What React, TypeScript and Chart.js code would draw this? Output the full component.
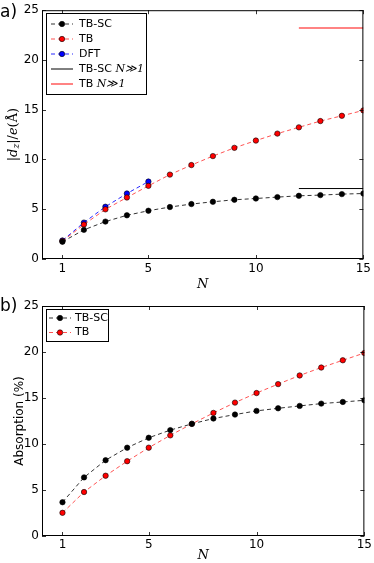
import React, { useEffect, useRef } from "react";
import { Chart, registerables } from "chart.js";
Chart.register(...registerables);

// ---------- data ----------
const layersN = [1, 2, 3, 4, 5, 6, 7, 8, 9, 10, 11, 12, 13, 14, 15];
const dipoleTBSC = [1.73, 2.93, 3.76, 4.39, 4.85, 5.22, 5.52, 5.75, 5.95, 6.08, 6.22, 6.35, 6.42, 6.52, 6.58];
const dipoleTB = [1.8, 3.46, 4.99, 6.18, 7.35, 8.48, 9.44, 10.34, 11.17, 11.9, 12.6, 13.23, 13.86, 14.39, 14.93];
const dftN = [1, 2, 3, 4, 5];
const dipoleDFT = [1.86, 3.66, 5.25, 6.58, 7.78];
const limitN = [12, 15];
const dipoleTBSCLimit = 7.08;
const dipoleTBLimit = 23.2;
const absTBSC = [3.67, 6.37, 8.24, 9.6, 10.68, 11.51, 12.19, 12.77, 13.2, 13.6, 13.88, 14.14, 14.39, 14.57, 14.75];
const absTB = [2.52, 4.78, 6.55, 8.13, 9.6, 10.94, 12.19, 13.38, 14.5, 15.54, 16.51, 17.45, 18.31, 19.1, 19.89];
const xTickValues = [1, 5, 10, 15];
const yTickValues = [0, 5, 10, 15, 20, 25];

const SANS = "'DejaVu Sans', sans-serif";
const SERIF = "'DejaVu Serif', serif";
const BLACK_LINE = "rgba(0,0,0,0.8)";
const RED_LINE = "rgba(255,40,40,0.8)";
const BLUE_LINE = "rgba(0,0,255,0.85)";

const pts = (xs: number[], ys: number[]) => xs.map((x, i) => ({ x, y: ys[i] }));

const markerSet = (label: string, xs: number[], ys: number[], line: string, fill: string) => ({
  label,
  data: pts(xs, ys),
  borderColor: line,
  borderWidth: 1,
  borderDash: [4, 3],
  pointRadius: 2.7,
  pointBorderWidth: 0.6,
  pointBorderColor: "#000",
  pointBackgroundColor: fill,
  showLine: true,
  fill: false,
  tension: 0,
  clip: 0,
});

const limitSet = (label: string, value: number, color: string, width: number) => ({
  label,
  data: pts(limitN, limitN.map(() => value)),
  borderColor: color,
  borderWidth: width,
  pointRadius: 0,
  showLine: true,
  fill: false,
  clip: 0,
});

// frame (full box + inward ticks)
const framePlugin = {
  id: "frame",
  afterDatasetsDraw(chart: any) {
    const { ctx, chartArea: a, scales } = chart;
    ctx.save();
    ctx.strokeStyle = "#000";
    ctx.lineWidth = 1;
    ctx.setLineDash([]);
    ctx.strokeRect(a.left + 0.5, a.top + 0.5, a.right - a.left - 1, a.bottom - a.top - 1);
    ctx.lineWidth = 0.8;
    ctx.beginPath();
    for (const v of xTickValues) {
      const px = Math.round(scales.x.getPixelForValue(v)) + 0.5;
      ctx.moveTo(px, a.bottom);
      ctx.lineTo(px, a.bottom - 4);
      ctx.moveTo(px, a.top);
      ctx.lineTo(px, a.top + 4);
    }
    for (const v of yTickValues) {
      const py = Math.round(scales.y.getPixelForValue(v)) + 0.5;
      ctx.moveTo(a.left, py);
      ctx.lineTo(a.left + 4, py);
      ctx.moveTo(a.right, py);
      ctx.lineTo(a.right - 4, py);
    }
    ctx.stroke();
    ctx.restore();
  },
};

// matplotlib-like legend
const mplLegendPlugin = {
  id: "mplLegend",
  afterDraw(chart: any, _args: any, o: any) {
    if (!o || !o.box) return;
    const { ctx } = chart;
    const [l, t, r, b] = o.box;
    ctx.save();
    ctx.fillStyle = "#fff";
    ctx.fillRect(l, t, r - l, b - t);
    ctx.strokeStyle = "#000";
    ctx.lineWidth = 1;
    ctx.setLineDash([]);
    ctx.strokeRect(l + 0.5, t + 0.5, r - l, b - t);
    chart.data.datasets.forEach((ds: any, i: number) => {
      const y = o.firstY + i * o.rowH;
      ctx.strokeStyle = ds.borderColor;
      ctx.lineWidth = ds.borderWidth;
      ctx.setLineDash(ds.borderDash || []);
      ctx.beginPath();
      ctx.moveTo(o.lineX0, y);
      ctx.lineTo(o.lineX1, y);
      ctx.stroke();
      ctx.setLineDash([]);
      if (ds.pointRadius > 0) {
        ctx.beginPath();
        ctx.arc((o.lineX0 + o.lineX1) / 2, y, ds.pointRadius, 0, Math.PI * 2);
        ctx.fillStyle = ds.pointBackgroundColor;
        ctx.fill();
        ctx.lineWidth = ds.pointBorderWidth;
        ctx.strokeStyle = ds.pointBorderColor;
        ctx.stroke();
      }
      ctx.fillStyle = "#000";
      ctx.textBaseline = "middle";
      ctx.textAlign = "left";
      const label: string = ds.label;
      const k = label.indexOf(" N");
      if (k >= 0) {
        const first = label.slice(0, k + 1);
        ctx.font = `11px ${SANS}`;
        ctx.fillText(first, o.textX, y);
        const w = ctx.measureText(first).width;
        ctx.font = `italic 11px ${SERIF}`;
        ctx.fillText(label.slice(k + 1), o.textX + w, y);
      } else {
        ctx.font = `11px ${SANS}`;
        ctx.fillText(label, o.textX, y);
      }
    });
    ctx.restore();
  },
};

// math-style y title with subscript
const dipoleTitlePlugin = {
  id: "dipoleTitle",
  afterDraw(chart: any, _a: any, o: any) {
    if (!o || !o.on) return;
    const { ctx, chartArea: a } = chart;
    const parts = [
      { t: "|", f: `13px ${SERIF}`, dy: 0 },
      { t: "d", f: `italic 13px ${SERIF}`, dy: 0 },
      { t: "z", f: `italic 9px ${SERIF}`, dy: 3 },
      { t: "|/", f: `13px ${SERIF}`, dy: 0 },
      { t: "e", f: `italic 13px ${SERIF}`, dy: 0 },
      { t: "(Å)", f: `13px ${SERIF}`, dy: 0 },
    ];
    ctx.save();
    let total = 0;
    for (const p of parts) {
      ctx.font = p.f;
      total += ctx.measureText(p.t).width;
    }
    ctx.translate(o.x, (a.top + a.bottom) / 2);
    ctx.rotate(-Math.PI / 2);
    ctx.fillStyle = "#000";
    ctx.textBaseline = "middle";
    ctx.textAlign = "left";
    let cx = -total / 2;
    for (const p of parts) {
      ctx.font = p.f;
      ctx.fillText(p.t, cx, p.dy);
      cx += ctx.measureText(p.t).width;
    }
    ctx.restore();
  },
};

function makeOptions(cfg: any) {
  return {
    responsive: false,
    animation: false,
    devicePixelRatio: 1,
    layout: { padding: cfg.padding },
    plugins: {
      legend: { display: false },
      tooltip: { enabled: false },
      mplLegend: cfg.legend,
      dipoleTitle: cfg.dipoleTitle || { on: false },
    },
    scales: {
      x: {
        type: "linear",
        min: 0.05,
        max: 15,
        afterBuildTicks: (s: any) => {
          s.ticks = xTickValues.map((v) => ({ value: v }));
        },
        afterFit: (s: any) => {
          s.height = cfg.xHeight;
        },
        grid: { display: false, drawTicks: false },
        border: { display: false },
        ticks: { color: "#000", font: { family: SANS, size: 12 }, padding: cfg.xTickPad, maxRotation: 0, autoSkip: false },
        title: { display: true, text: "N", color: "#000", font: { family: SERIF, size: 13, style: "italic" }, padding: { top: 0, bottom: 0 } },
      },
      y: {
        type: "linear",
        min: 0,
        max: 25,
        afterBuildTicks: (s: any) => {
          s.ticks = yTickValues.map((v) => ({ value: v }));
        },
        afterFit: (s: any) => {
          s.width = 42;
        },
        grid: { display: false, drawTicks: false },
        border: { display: false },
        ticks: { color: "#000", font: { family: SANS, size: 12 }, padding: 3 },
        title: cfg.yTitle,
      },
    },
  };
}

function PlotCanvas({ width, height, datasets, options, top }: any) {
  const ref = useRef<HTMLCanvasElement | null>(null);
  useEffect(() => {
    if (!ref.current) return;
    const chart = new Chart(ref.current, {
      type: "scatter",
      data: { datasets },
      options,
      plugins: [framePlugin, mplLegendPlugin, dipoleTitlePlugin],
    } as any);
    return () => chart.destroy();
  }, []);
  return (
    <canvas
      ref={ref}
      width={width}
      height={height}
      style={{ position: "absolute", left: 0, top, width, height }}
    />
  );
}

export default function App() {
  const dipoleSets = [
    markerSet("TB-SC", layersN, dipoleTBSC, BLACK_LINE, "#000"),
    markerSet("TB", layersN, dipoleTB, RED_LINE, "#ff0000"),
    markerSet("DFT", dftN, dipoleDFT, BLUE_LINE, "#0000ff"),
    limitSet("TB-SC N≫1", dipoleTBSCLimit, "#000", 1),
    limitSet("TB N≫1", dipoleTBLimit, "rgba(255,60,60,0.85)", 1.5),
  ];
  const absSets = [
    markerSet("TB-SC", layersN, absTBSC, BLACK_LINE, "#000"),
    markerSet("TB", layersN, absTB, RED_LINE, "#ff0000"),
  ];
  const opts1 = makeOptions({
    padding: { top: 9, right: 9, left: 0, bottom: 0 },
    xHeight: 33,
    xTickPad: 3,
    yTitle: { display: false },
    dipoleTitle: { on: true, x: 14 },
    legend: { box: [46, 13, 146, 94], firstY: 24, rowH: 15, lineX0: 51, lineX1: 73, textX: 79 },
  });
  const opts2 = makeOptions({
    padding: { top: 14, right: 9, left: 0, bottom: 0 },
    xHeight: 27,
    xTickPad: 2,
    yTitle: { display: true, text: "Absorption (%)", color: "#000", font: { family: SANS, size: 12 }, padding: { top: 13, bottom: 0 } },
    legend: { box: [46, 17, 108, 49], firstY: 26, rowH: 14.5, lineX0: 49, lineX1: 71, textX: 75 },
  });
  return (
    <div style={{ position: "fixed", left: 0, top: 0, width: 374, height: 563, background: "#fff", overflow: "hidden" }}>
      <PlotCanvas width={374} height={292} top={0} datasets={dipoleSets} options={opts1} />
      <PlotCanvas width={374} height={271} top={292} datasets={absSets} options={opts2} />
      <div style={{ position: "absolute", left: 0, top: 1, fontFamily: SANS, fontSize: 17, lineHeight: "20px", color: "#000" }}>a)</div>
      <div style={{ position: "absolute", left: 0, top: 295, fontFamily: SANS, fontSize: 17, lineHeight: "20px", color: "#000" }}>b)</div>
    </div>
  );
}
